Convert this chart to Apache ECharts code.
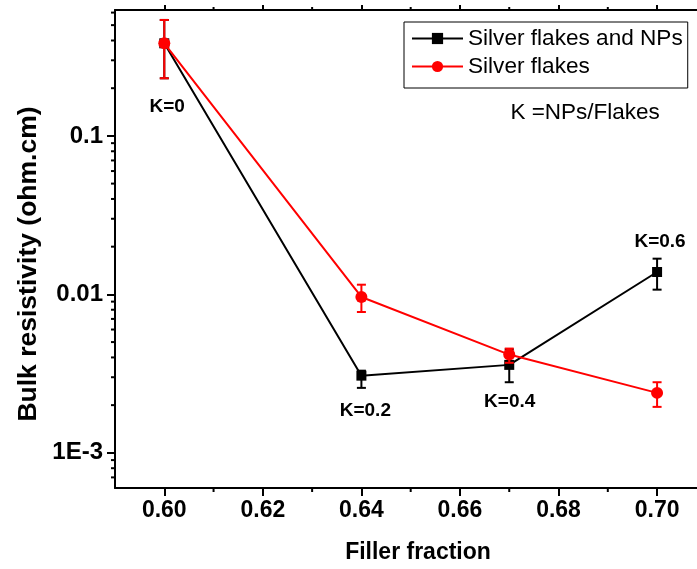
<!DOCTYPE html>
<html><head><meta charset="utf-8">
<script src="https://cdn.jsdelivr.net/npm/echarts@6/dist/echarts.min.js"></script>
<style>html,body{margin:0;padding:0;background:#fff}#c{width:697px;height:569px}</style>
</head><body><div id="c"></div>
<script>
// ---- data ----
const fillerFraction = [0.60, 0.64, 0.67, 0.70];
const hybridValues   = [0.384, 0.00307, 0.00359, 0.01384];
const hybridErrLow   = [0.231, 0.00257, 0.00279, 0.01071];
const hybridErrHigh  = [0.539, 0.00330, 0.00450, 0.01680];
const flakeValues    = [0.384, 0.00963, 0.00417, 0.00239];
const flakeErrLow    = [0.231, 0.00774, 0.00370, 0.00195];
const flakeErrHigh   = [0.539, 0.01151, 0.00455, 0.00279];
const seriesNames = ['Silver flakes and NPs', 'Silver flakes'];
const xMajorTicks = [0.60, 0.62, 0.64, 0.66, 0.68, 0.70];
const xMinorTicks = [0.61, 0.63, 0.65, 0.67, 0.69];
const yMinorTicks = [7e-4, 8e-4, 9e-4,
  2e-3, 3e-3, 4e-3, 5e-3, 6e-3, 7e-3, 8e-3, 9e-3,
  2e-2, 3e-2, 4e-2, 5e-2, 6e-2, 7e-2, 8e-2, 9e-2,
  0.2, 0.3, 0.4, 0.5, 0.6];
const annotationText = ['K=0', 'K=0.2', 'K=0.4', 'K=0.6', 'K =NPs/Flakes'];
const annotationX    = [0.6006, 0.6408, 0.6701, 0.7006, 0.6854];
const annotationY    = [0.152, 0.00185, 0.00211, 0.0215, 0.1395];
const annotationBold = [true, true, true, true, false];

const X_MIN = 0.59, X_MAX = 0.7081, Y_MIN = 6.0e-4, Y_MAX = 0.623;
const FONT = "'Liberation Sans', Arial, sans-serif";

const chart = echarts.init(document.getElementById('c'), null, {renderer: 'canvas'});

function errRender(color) {
  return function (params, api) {
    const x = api.value(0), lo = api.value(1), hi = api.value(2);
    const pLo = api.coord([x, lo]), pHi = api.coord([x, hi]);
    const hw = 4.5;
    const style = {stroke: color, lineWidth: 2, fill: null};
    return {type: 'group', children: [
      {type: 'line', shape: {x1: pLo[0], y1: pLo[1], x2: pHi[0], y2: pHi[1]}, style},
      {type: 'line', shape: {x1: pLo[0] - hw, y1: pLo[1], x2: pLo[0] + hw, y2: pLo[1]}, style},
      {type: 'line', shape: {x1: pHi[0] - hw, y1: pHi[1], x2: pHi[0] + hw, y2: pHi[1]}, style}
    ]};
  };
}

const tickStyle = {stroke: '#000', lineWidth: 2};

chart.setOption({
  animation: false,
  backgroundColor: '#fff',
  grid: {left: 115, top: 10, right: 0, bottom: 81, containLabel: false},
  legend: {
    orient: 'vertical', left: 404, top: 22,
    data: seriesNames,
    borderColor: '#000', borderWidth: 1, borderRadius: 0,
    padding: [5, 5, 10, 7],
    itemWidth: 51, itemHeight: 14, itemGap: 5,
    textStyle: {fontSize: 22.6, fontFamily: FONT, color: '#000', lineHeight: 22}
  },
  xAxis: [
    {type: 'value', min: X_MIN, max: X_MAX, position: 'bottom',
     axisLine: {show: true, onZero: false, lineStyle: {color: '#000', width: 2}},
     axisTick: {show: true, customValues: xMajorTicks, length: 8, lineStyle: {color: '#000', width: 2}},
     axisLabel: {customValues: xMajorTicks, formatter: v => v.toFixed(2), fontSize: 23, fontWeight: 'bold',
                 fontFamily: FONT, color: '#000', margin: 11},
     splitLine: {show: false}},
    {type: 'value', min: X_MIN, max: X_MAX, position: 'top',
     axisLine: {show: true, onZero: false, lineStyle: {color: '#000', width: 2}},
     axisTick: {show: true, customValues: xMajorTicks, length: 5, lineStyle: {color: '#000', width: 2}},
     axisLabel: {show: false}, splitLine: {show: false}}
  ],
  yAxis: [
    {type: 'log', logBase: 10, min: Y_MIN, max: Y_MAX, position: 'left',
     axisLine: {show: true, onZero: false, lineStyle: {color: '#000', width: 2}},
     axisTick: {show: true, length: 8, lineStyle: {color: '#000', width: 2}},
     axisLabel: {fontSize: 24, fontWeight: 'bold', fontFamily: FONT, color: '#000', margin: 12,
                 showMinLabel: false, showMaxLabel: false,
                 formatter: function (v) {
                   const e = Math.round(Math.log10(v));
                   if (Math.abs(Math.log10(v) - e) > 1e-6) return '';
                   if (e === -1) return '0.1';
                   if (e === -2) return '0.01';
                   if (e === -3) return '1E-3';
                   return String(v);
                 }},
     splitLine: {show: false}}
  ],
  graphic: [
    {type: 'text', x: 418, y: 553, style: {text: 'Filler fraction', fontSize: 23, fontWeight: 'bold',
      fontFamily: FONT, fill: '#000', align: 'center', verticalAlign: 'middle'}},
    {type: 'text', x: 29, y: 264, rotation: Math.PI / 2, style: {text: 'Bulk resistivity (ohm.cm)', fontSize: 26.5,
      fontWeight: 'bold', fontFamily: FONT, fill: '#000', align: 'center', verticalAlign: 'middle'}}
  ],
  series: [
    {type: 'custom', name: 'yMinor', silent: true, clip: false, z: 1,
     data: yMinorTicks.map(v => [X_MIN, v]),
     renderItem: (p, api) => {
       const c = api.coord([X_MIN, api.value(1)]);
       return {type: 'line', shape: {x1: c[0] - 4, y1: c[1], x2: c[0], y2: c[1]}, style: tickStyle};
     }},
    {type: 'custom', name: 'xMinorBottom', silent: true, clip: false, z: 1,
     data: xMinorTicks.map(v => [v, Y_MIN]),
     renderItem: (p, api) => {
       const c = api.coord([api.value(0), Y_MIN]);
       return {type: 'line', shape: {x1: c[0], y1: c[1], x2: c[0], y2: c[1] + 4}, style: tickStyle};
     }},
    {type: 'custom', name: 'xMinorTop', silent: true, clip: false, z: 1,
     data: xMinorTicks.map(v => [v, Y_MAX]),
     renderItem: (p, api) => {
       const c = api.coord([api.value(0), Y_MAX]);
       return {type: 'line', shape: {x1: c[0], y1: c[1], x2: c[0], y2: c[1] - 3}, style: tickStyle};
     }},
    {type: 'line', name: seriesNames[0], z: 2,
     data: fillerFraction.map((x, i) => [x, hybridValues[i]]),
     symbol: 'rect', symbolSize: 10, color: '#000',
     lineStyle: {color: '#000', width: 2}, itemStyle: {color: '#000'}},
    {type: 'custom', name: 'hybridErr', z: 2, clip: false,
     data: fillerFraction.map((x, i) => [x, hybridErrLow[i], hybridErrHigh[i]]),
     renderItem: errRender('#000')},
    {type: 'line', name: seriesNames[1], z: 3,
     data: fillerFraction.map((x, i) => [x, flakeValues[i]]),
     symbol: 'circle', symbolSize: 12, color: '#ff0000',
     lineStyle: {color: '#ff0000', width: 2}, itemStyle: {color: '#ff0000'}},
    {type: 'custom', name: 'flakeErr', z: 3, clip: false,
     data: fillerFraction.map((x, i) => [x, flakeErrLow[i], flakeErrHigh[i]]),
     renderItem: errRender('#ff0000')},
    {type: 'custom', name: 'annotations', z: 4, clip: false, silent: true,
     data: annotationX.map((x, i) => [x, annotationY[i]]),
     renderItem: (p, api) => {
       const i = p.dataIndex;
       const c = api.coord([api.value(0), api.value(1)]);
       const bold = annotationBold[i];
       return {type: 'text', x: c[0], y: c[1], style: {text: annotationText[i],
         fontSize: bold ? 19 : 22.5, fontWeight: bold ? 'bold' : 'normal', fontFamily: FONT,
         fill: '#000', align: 'center', verticalAlign: 'middle'}};
     }}
  ]
});
</script>
</body></html>
